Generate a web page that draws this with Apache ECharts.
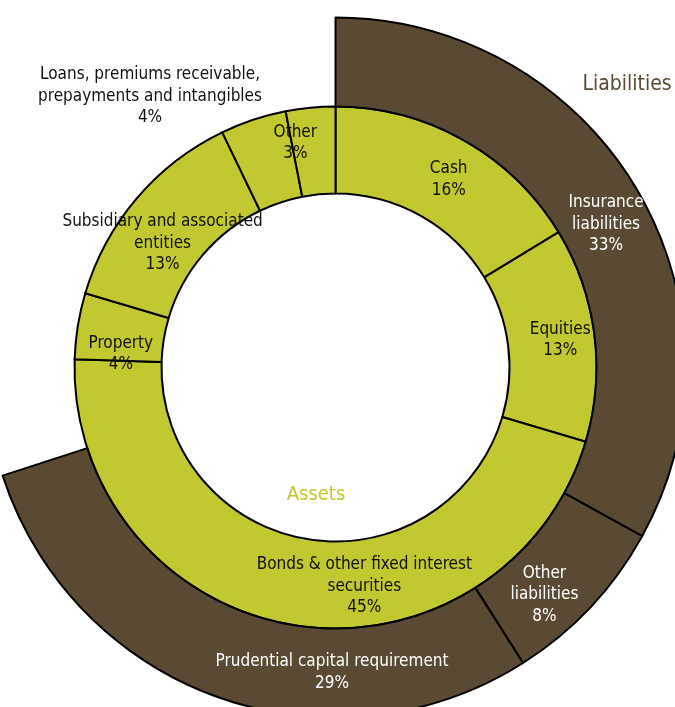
<!DOCTYPE html>
<html>
<head>
<meta charset="utf-8">
<script src="https://cdn.jsdelivr.net/npm/echarts@6/dist/echarts.min.js"></script>
<style>
  html, body { margin: 0; padding: 0; background: #ffffff; }
  #chart { width: 675px; height: 707px; }
</style>
</head>
<body>
<div id="chart"></div>
<script>
// Asset breakdown (inner ring), % of total
const assetNames = [
  'Cash',
  'Equities',
  'Bonds & other fixed interest\nsecurities',
  'Property',
  'Subsidiary and associated\nentities',
  'Loans, premiums receivable,\nprepayments and intangibles',
  'Other'
];
const assetValues = [16, 13, 45, 4, 13, 4, 3];

// Liabilities and capital requirement (outer ring), % of total assets
const liabilityNames = [
  'Insurance\nliabilities',
  'Other\nliabilities',
  'Prudential capital requirement'
];
const liabilityValues = [33, 8, 29];

const ringTitles = ['Assets', 'Liabilities'];

// Label nudges (dx, dy) away from the default mid-ring spot
const assetLabelShift = [[5, 4], [6, 1], [64, 1], [3, 22], [-5, 19], [-116, -62], [-19, -5]];
const liabilityLabelShift = [[5, 14], [-16, 16], [101, 15]];

const GREEN = '#c2c82f';
const BROWN = '#5a4a33';
const FONT = "'Liberation Sans Narrow', 'Arial Narrow', 'DejaVu Sans Condensed', 'Liberation Sans', sans-serif";

const cx = 335.5, cy = 367.5;
const liabilityShare = liabilityValues.reduce((a, b) => a + b, 0) / 100;

const chart = echarts.init(document.getElementById('chart'), null, { renderer: 'canvas' });

const labelFmt = p => p.name + '\n' + p.value + '%';

chart.setOption({
  animation: false,
  backgroundColor: '#ffffff',
  series: [
    {
      type: 'pie',
      name: ringTitles[0],
      center: [cx, cy],
      radius: [174, 261],
      startAngle: 90,
      clockwise: true,
      avoidLabelOverlap: false,
      silent: true,
      itemStyle: { color: GREEN, borderColor: '#000000', borderWidth: 2 },
      label: {
        show: true,
        position: 'inside',
        formatter: labelFmt,
        color: '#111111',
        fontFamily: FONT,
        fontSize: 17,
        lineHeight: 21.5,
        align: 'center'
      },
      labelLine: { show: false },
      labelLayout: p => ({ dx: assetLabelShift[p.dataIndex][0], dy: assetLabelShift[p.dataIndex][1] }),
      data: assetNames.map((n, i) => ({ name: n, value: assetValues[i] }))
    },
    {
      type: 'pie',
      name: ringTitles[1],
      center: [cx, cy],
      radius: [261, 350],
      startAngle: 90,
      endAngle: 90 - 360 * liabilityShare,
      clockwise: true,
      avoidLabelOverlap: false,
      silent: true,
      itemStyle: { color: BROWN, borderColor: '#000000', borderWidth: 2 },
      label: {
        show: true,
        position: 'inside',
        formatter: labelFmt,
        color: '#ffffff',
        fontFamily: FONT,
        fontSize: 17,
        lineHeight: 21.5,
        align: 'center'
      },
      labelLine: { show: false },
      labelLayout: p => ({ dx: liabilityLabelShift[p.dataIndex][0], dy: liabilityLabelShift[p.dataIndex][1] }),
      data: liabilityNames.map((n, i) => ({ name: n, value: liabilityValues[i] }))
    }
  ],
  graphic: [
    {
      type: 'text',
      x: 316, y: 495,
      style: { text: ringTitles[0], fill: GREEN, font: '20px ' + FONT, align: 'center', verticalAlign: 'middle' }
    },
    {
      type: 'text',
      x: 627, y: 85,
      style: { text: ringTitles[1], fill: BROWN, font: '21px ' + FONT, align: 'center', verticalAlign: 'middle' }
    }
  ]
});
</script>
</body>
</html>
